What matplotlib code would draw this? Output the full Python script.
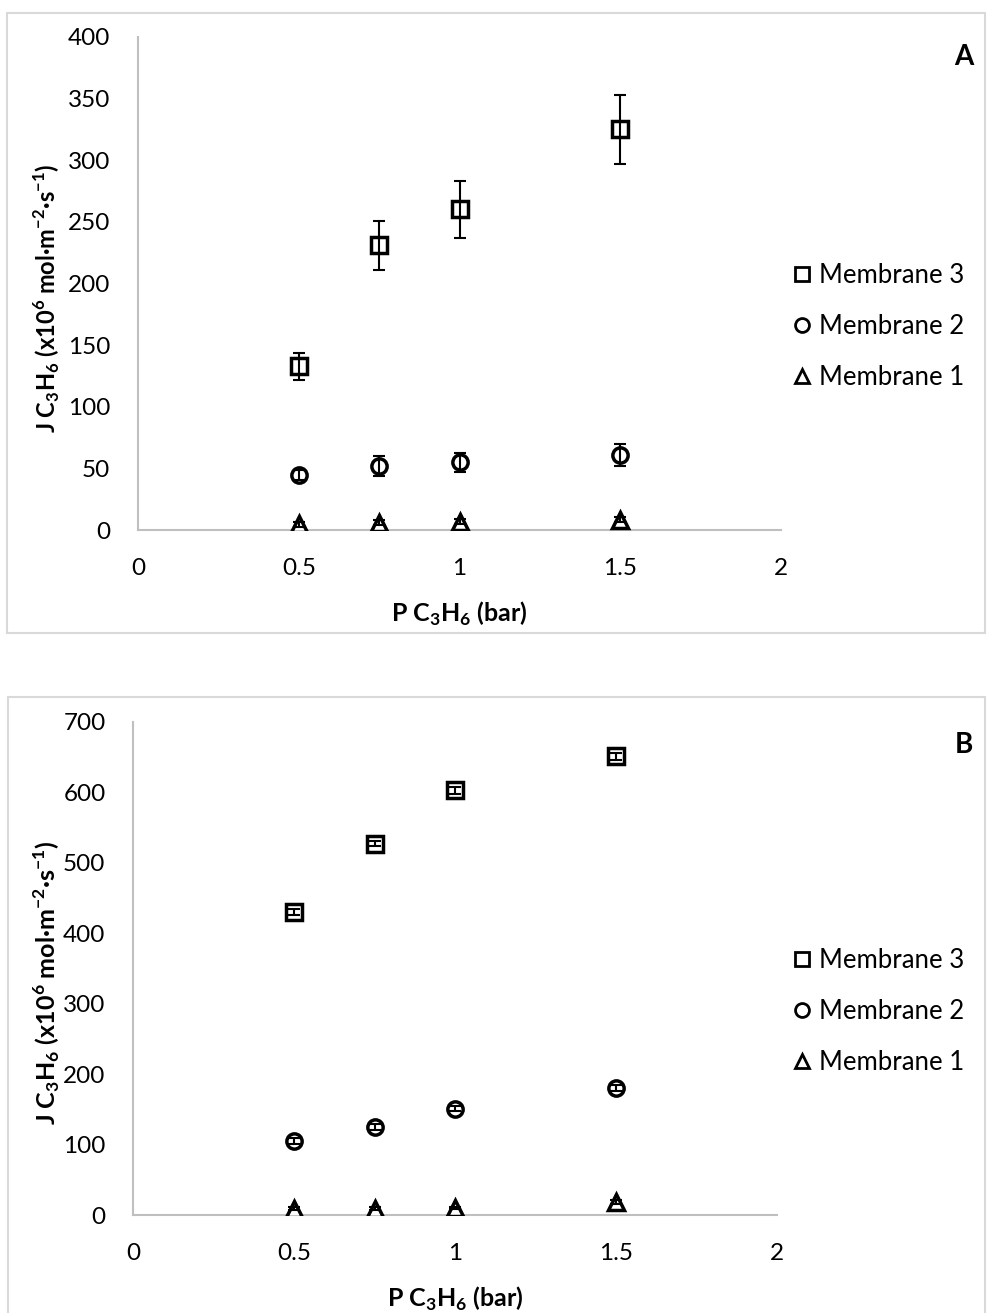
import matplotlib
matplotlib.use("Agg")
import matplotlib.pyplot as plt
from matplotlib.lines import Line2D
from matplotlib.patches import Rectangle

plt.rcParams['font.family'] = ['Lato', 'DejaVu Sans']
plt.rcParams['mathtext.fontset'] = 'custom'
plt.rcParams['mathtext.rm'] = 'Lato'
plt.rcParams['mathtext.bf'] = 'Lato:bold'

# Data ---------------------------------------------------------------
pressure = [0.5, 0.75, 1.0, 1.5]

# panel A
a_m3 = [133, 231, 260, 325]
a_m3_err = [11, 20, 23, 28]
a_m2 = [45, 52, 55, 61]
a_m2_err = [4, 8, 8, 9]
a_m1 = [5, 6, 7, 8.5]
a_m1_err = [2, 2, 2, 2]

# panel B
b_m3 = [430, 527, 603, 651]
b_m3_err = [4, 4, 5, 5]
b_m2 = [105, 125, 151, 180]
b_m2_err = [4, 4, 4, 4]
b_m1 = [9, 9, 10, 18]
b_m1_err = [2, 2, 2, 3]

labels = ["Membrane 3", "Membrane 2", "Membrane 1"]
markers = ["s", "o", "^"]

ylabel = r"J C$_\mathbf{3}$H$_\mathbf{6}$ (x10$^\mathbf{6}$ mol·m$^\mathbf{-2}$·s$^\mathbf{-1}$)"
xlabel = r"P C$_\mathbf{3}$H$_\mathbf{6}$ (bar)"

W, H = 988, 1313
fig = plt.figure(figsize=(W / 100, H / 100), dpi=100)


def px(x0, y0, x1, y1):
    # pixel box -> figure fraction rect
    return [x0 / W, 1 - y1 / H, (x1 - x0) / W, (y1 - y0) / H]


def panel(rect, frame, series, ymax, ystep, tag, tag_y, leg_y, ylab_x, ylab_fs):
    fig.add_artist(Rectangle((frame[0], frame[1]), frame[2], frame[3],
                             transform=fig.transFigure, fill=False,
                             edgecolor="#d9d9d9", lw=1.5))
    ax = fig.add_axes(rect)
    for (y, e), m in zip(series, markers):
        ax.plot(pressure, y, m, mfc="white", mec="black", mew=2.5, ms=11,
                zorder=3)
        # error bars drawn over the open markers, like the original
        ax.errorbar(pressure, y, yerr=e, fmt="none", ecolor="black",
                    elinewidth=1.5, capsize=4.5, capthick=1.5, zorder=4)
    ax.set_xlim(0, 2)
    ax.set_ylim(0, ymax)
    ax.set_xticks([0, 0.5, 1, 1.5, 2])
    ax.set_xticklabels(["0", "0.5", "1", "1.5", "2"])
    ax.set_yticks(range(0, ymax + 1, ystep))
    for s in ["top", "right"]:
        ax.spines[s].set_visible(False)
    for s in ["left", "bottom"]:
        ax.spines[s].set_color("#bfbfbf")
        ax.spines[s].set_linewidth(1.5)
    ax.tick_params(length=0, labelsize=17.5, pad=20, colors="black")
    ax.set_xlabel(xlabel, fontsize=18, fontweight="bold", labelpad=15)
    ax.set_ylabel(ylabel, fontsize=ylab_fs, fontweight="bold")
    ax.yaxis.set_label_coords(ylab_x, 0.47)
    fig.text(973 / W, 1 - tag_y / H, tag, fontsize=20, fontweight="bold",
             ha="right", va="center")
    handles = [Line2D([], [], marker=m, ls="none", mfc="white", mec="black",
                      mew=2, ms=10) for m in markers]
    fig.legend(handles, labels, loc="upper left",
               bbox_to_anchor=(779 / W, 1 - leg_y / H), frameon=False,
               fontsize=18.5, handletextpad=0.15, handlelength=1.0,
               labelspacing=1.0, borderaxespad=0)
    return ax


panel(px(138, 36.7, 781, 530.3), [7 / W, 1 - 633 / H, 978 / W, 620 / H],
      [(a_m3, a_m3_err), (a_m2, a_m2_err), (a_m1, a_m1_err)],
      400, 50, "A", 57, 253, -0.118, 17)
panel(px(133.3, 721.7, 777, 1215), [8 / W, 1 - 1330 / H, 977 / W, 633 / H],
      [(b_m3, b_m3_err), (b_m2, b_m2_err), (b_m1, b_m1_err)],
      700, 100, "B", 745, 938, -0.110, 18)

fig.savefig("out.png", dpi=100)
